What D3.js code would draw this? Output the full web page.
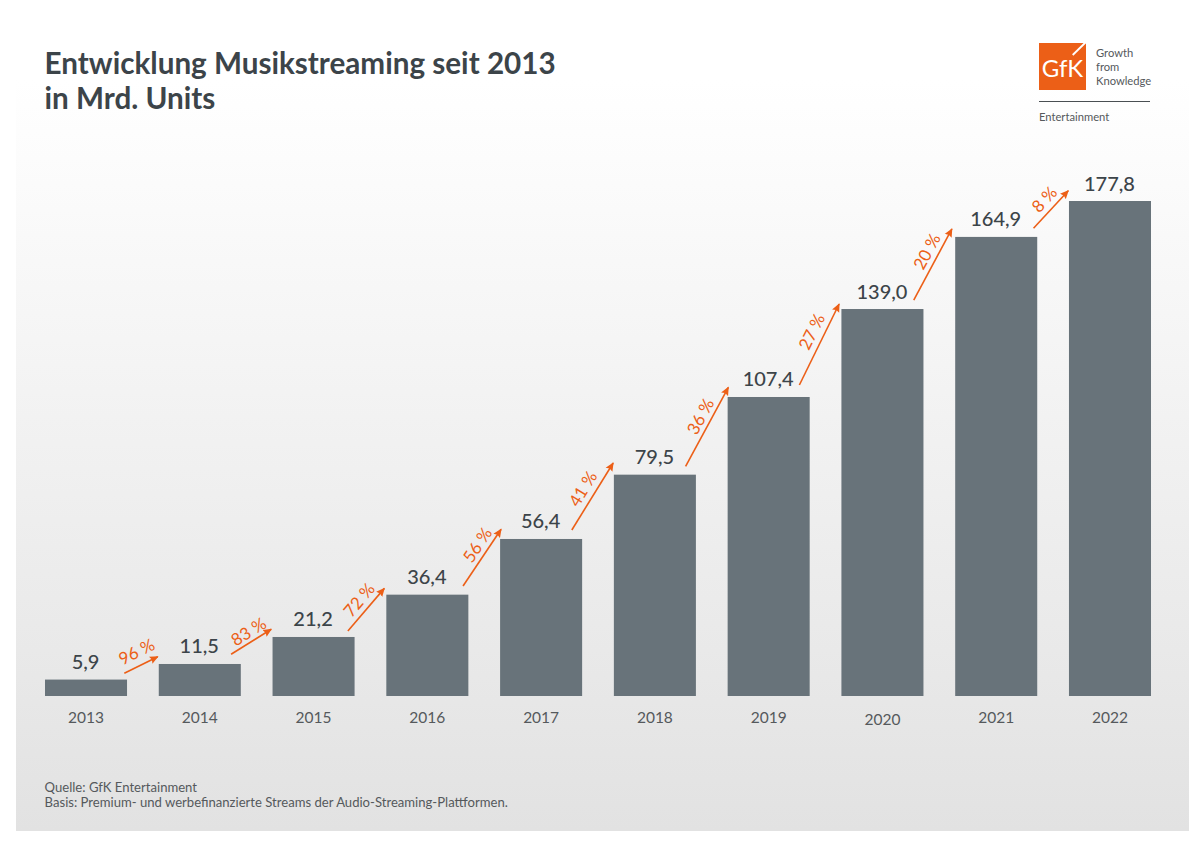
<!DOCTYPE html>
<html>
<head>
<meta charset="utf-8">
<script src="https://cdn.jsdelivr.net/npm/d3@7"></script>
<style>
	html, body { margin: 0; padding: 0; background: #fff; }
	svg { display: block; }
	text { font-family: Lato, "Open Sans", sans-serif; }
</style>
</head>
<body>
<svg id="chart" width="1200" height="845"></svg>
<script>
const years = ['2013', '2014', '2015', '2016', '2017', '2018', '2019', '2020', '2021', '2022'];
const streams = [5.9, 11.5, 21.2, 36.4, 56.4, 79.5, 107.4, 139.0, 164.9, 177.8];
const growth = ['96 %', '83 %', '72 %', '56 %', '41 %', '36 %', '27 %', '20 %', '8 %'];
const titleLines = ['Entwicklung Musikstreaming seit 2013', 'in Mrd. Units'];
const sourceLines = ['Quelle: GfK Entertainment', 'Basis: Premium- und werbefinanzierte Streams der Audio-Streaming-Plattformen.'];
const claimLines = ['Growth', 'from', 'Knowledge'];

const orange = '#ec5f17';
const barColor = '#68737a';
const dark = '#3c4449';

const svg = d3.select('#chart');
const x = d3.scaleBand().domain(years).range([45, 1151]).paddingInner(0.279).paddingOuter(0);
const y = d3.scaleLinear().domain([0, 177.8]).range([696, 201]);
const fmt = v => v.toFixed(1).replace('.', ',');

const defs = svg.append('defs');
const grad = defs.append('linearGradient').attr('id', 'panel').attr('x1', 0).attr('x2', 0).attr('y1', 0).attr('y2', 1);
grad.append('stop').attr('offset', '0%').attr('stop-color', '#ffffff');
grad.append('stop').attr('offset', '100%').attr('stop-color', '#e2e2e2');

defs.append('marker').attr('id', 'head')
	.attr('viewBox', '0 0 10 10').attr('refX', 9).attr('refY', 5)
	.attr('markerWidth', 5.5).attr('markerHeight', 5.5).attr('markerUnits', 'strokeWidth')
	.attr('orient', 'auto')
	.append('path').attr('d', 'M0,0.5 L10,5 L0,9.5 L1.5,5 Z').attr('fill', orange);

svg.append('rect').attr('x', 16).attr('y', 80).attr('width', 1173).attr('height', 751).attr('fill', 'url(#panel)');

// title
svg.append('g').selectAll('text').data(titleLines).join('text')
	.attr('x', 44.6).attr('y', (d, i) => 74 + i * 35)
	.attr('font-size', 29.65).attr('font-weight', 700).attr('fill', dark)
	.text(d => d);

// bars
svg.append('g').selectAll('rect').data(streams).join('rect')
	.attr('x', (d, i) => x(years[i]))
	.attr('y', d => y(d))
	.attr('width', x.bandwidth())
	.attr('height', d => y(0) - y(d))
	.attr('fill', barColor);

// value labels
svg.append('g').selectAll('text').data(streams).join('text')
	.attr('x', (d, i) => x(years[i]) + x.bandwidth() / 2 - 0.5)
	.attr('y', d => y(d) - 10.5)
	.attr('text-anchor', 'middle')
	.attr('font-size', 20).attr('font-weight', 500).attr('fill', dark)
	.text(fmt);

// year axis
const axis = svg.append('g').attr('transform', `translate(0,${y(0)})`)
	.call(d3.axisBottom(x).tickSize(0).tickPadding(16));
axis.select('.domain').remove();
axis.selectAll('text')
	.attr('font-size', 15.5).attr('font-family', 'Lato').attr('fill', '#55595c')
	.attr('dy', d => d === '2020' ? '0.84em' : '0.71em'); // 2020 sits a little lower in the original

// the arrows were placed by hand, so each gets its own nudge off the bar tops:
// [inset from bar right, rise over bar top, gap before next bar, rise over next bar top, label dx, label dy]
const nudges = [
	[2.7, 6.3, 1, 7.3, -4.3, -13.3], [9.7, 9.7, 1.3, 7.7, -2.5, -10], [6.7, 6, 2, 6.3, -6.9, -9.7],
	[5.3, 8.6, -1, 9.7, -4.6, -12.7], [10.3, 9, 0.7, 11.7, -9.5, -7.6], [10.3, 8.3, -0.7, 9.7, -6.5, -10.3],
	[10.3, 12, 2.3, 5, -7.5, -12.8], [9.7, 9, 3.3, 8, -5.8, -12.8], [3.7, 8.7, 0.7, 10.3, -6.5, -10]
];

const arrows = growth.map((label, i) => {
	const [inset, rise, gap, riseNext, labelDx, labelDy] = nudges[i];
	const x1 = x(years[i]) + x.bandwidth() - inset;
	const y1 = y(streams[i]) - rise;
	const x2 = x(years[i + 1]) - gap;
	const y2 = y(streams[i + 1]) - riseNext;
	return { label, x1, y1, x2, y2, labelDx, labelDy, angle: Math.atan2(y2 - y1, x2 - x1) * 180 / Math.PI };
});

svg.append('g').selectAll('line').data(arrows).join('line')
	.attr('x1', d => d.x1).attr('y1', d => d.y1)
	.attr('x2', d => d.x2).attr('y2', d => d.y2)
	.attr('stroke', orange).attr('stroke-width', 1.6)
	.attr('marker-end', 'url(#head)');

svg.append('g').selectAll('text').data(arrows).join('text')
	.attr('transform', d => `translate(${(d.x1 + d.x2) / 2 + d.labelDx},${(d.y1 + d.y2) / 2 + d.labelDy}) rotate(${d.angle})`)
	.attr('text-anchor', 'middle').attr('dy', '0.35em')
	.attr('font-size', 17).attr('font-weight', 400).attr('fill', orange)
	.text(d => d.label);

// source
svg.append('g').selectAll('text').data(sourceLines).join('text')
	.attr('x', 44.6).attr('y', (d, i) => 791.5 + i * 15.5)
	.attr('font-size', 13.1).attr('fill', '#55595c')
	.text(d => d);

// logo
const logo = svg.append('g');
logo.append('rect').attr('x', 1039).attr('y', 43).attr('width', 47).attr('height', 47).attr('fill', orange);
logo.append('text').attr('x', 1062.5).attr('y', 77).attr('text-anchor', 'middle')
	.attr('font-size', 24).attr('font-weight', 400).attr('fill', '#fff').text('GfK');
logo.append('line').attr('x1', 1072.7).attr('y1', 55).attr('x2', 1085.5).attr('y2', 42.5)
	.attr('stroke', '#fff').attr('stroke-width', 1.8);
logo.append('g').selectAll('text').data(claimLines).join('text')
	.attr('x', 1096).attr('y', (d, i) => 57 + i * 13.8)
	.attr('font-size', 11.2).attr('fill', '#55595c')
	.text(d => d);
logo.append('line').attr('x1', 1039).attr('x2', 1150).attr('y1', 101.5).attr('y2', 101.5)
	.attr('stroke', '#4a4f53').attr('stroke-width', 1);
logo.append('text').attr('x', 1039).attr('y', 121)
	.attr('font-size', 11.2).attr('fill', '#55595c').text('Entertainment');
</script>
</body>
</html>
